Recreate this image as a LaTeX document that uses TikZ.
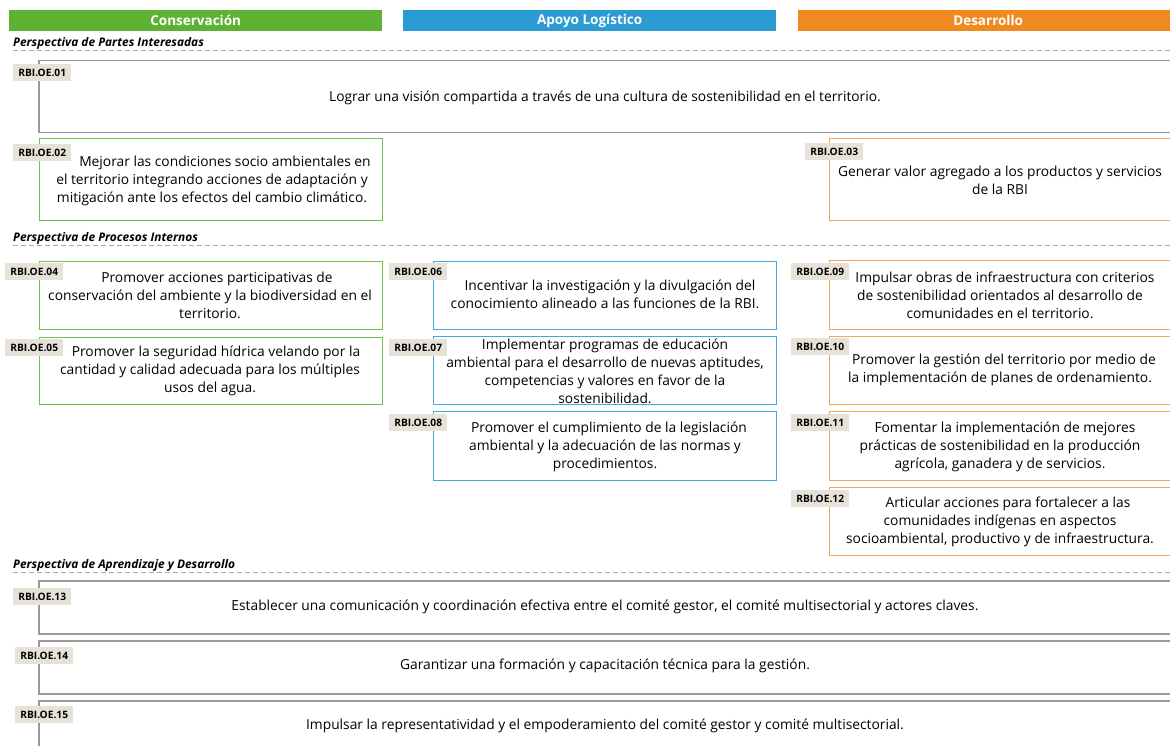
\documentclass[tikz,border=0pt]{standalone}
\usepackage{fontspec}
\setmainfont{Open Sans}
\definecolor{cgreen}{HTML}{5DB233}
\definecolor{cblue}{HTML}{2A9BD3}
\definecolor{corange}{HTML}{F0891F}
\definecolor{lgreen}{HTML}{72C04E}
\definecolor{lblue}{HTML}{45A8DC}
\definecolor{lorange}{HTML}{F5A55A}
\definecolor{tagbg}{HTML}{E7E2D8}
\definecolor{boxgray}{HTML}{9A9A9A}
\definecolor{dashgray}{HTML}{A8A8A8}
\tikzset{
  header/.style={fill=#1, text=white, font=\bfseries\fontsize{13.5}{16}\selectfont, inner sep=0, anchor=north west, minimum height=21pt},
  obox/.style={draw=#1, line width=1.2pt, fill=white, inner sep=0, anchor=north west},
  gbox/.style={draw=boxgray, line width=1.5pt, fill=white, inner sep=0, anchor=north west, minimum width=1140pt},
  tagnode/.style={fill=tagbg, font=\bfseries\fontsize{10.2}{12}\selectfont, anchor=north west, inner sep=0, minimum height=17pt, minimum width=58pt},
  otext/.style={align=center, font=\fontsize{13.8}{18}\selectfont, inner sep=0},
  persp/.style={font=\bfseries\itshape\fontsize{11.9}{13}\selectfont, anchor=base west, inner sep=0},
  dashline/.style={draw=dashgray, line width=1pt, dash pattern=on 5pt off 3pt}
}
\begin{document}
\begin{tikzpicture}[x=1pt,y=-1pt]
\useasboundingbox (0,0) rectangle (1170,746);
\clip (0,0) rectangle (1170,746);
% headers
\node[header=cgreen, minimum width=373pt] (h1) at (9,10) {Conservación};
\node[header=cblue, minimum width=373pt] (h2) at (403,10) {Apoyo Logístico};
\node[header=corange, minimum width=380pt] (h3) at (798,10) {Desarrollo};
% perspectives
\node[persp] (p1) at (13,47) {Perspectiva de Partes Interesadas};
\coordinate (d1a) at (13,51); \coordinate (d1b) at (1170,51);
\draw[dashline] (d1a) -- (d1b);
\node[persp] (p2) at (13,242) {Perspectiva de Procesos Internos};
\coordinate (d2a) at (13,246); \coordinate (d2b) at (1170,246);
\draw[dashline] (d2a) -- (d2b);
\node[persp] (p3) at (13,568) {Perspectiva de Aprendizaje y Desarrollo};
\coordinate (d3a) at (13,572); \coordinate (d3b) at (1170,572);
\draw[dashline] (d3a) -- (d3b);
% OE.01
\node[gbox, minimum height=72pt] (b01) at (38,60) {};
\node[otext] (t01) at (605,98) {Lograr una visión compartida a través de una cultura de sostenibilidad en el territorio.};
\node[tagnode] (g01) at (13,64) {RBI.OE.01};
% OE.02
\node[obox=lgreen, minimum width=343pt, minimum height=82pt] (b02) at (39,138) {};
\node[otext] (t02) at (212,181) {\hspace*{26pt}Mejorar las condiciones socio ambientales en\\el territorio integrando acciones de adaptación y\\mitigación ante los efectos del cambio climático.};
\node[tagnode] (g02) at (13,144) {RBI.OE.02};
% OE.03
\node[obox=lorange, minimum width=350pt, minimum height=82pt] (b03) at (829,138) {};
\node[otext] (t03) at (1000,180) {Generar valor agregado a los productos y servicios\\de la RBI};
\node[tagnode] (g03) at (805,143) {RBI.OE.03};
% OE.04
\node[obox=lgreen, minimum width=343pt, minimum height=68pt] (b04) at (39,261) {};
\node[otext] (t04) at (210,295) {\hspace*{14pt}Promover acciones participativas de\\conservación del ambiente y la biodiversidad en el\\territorio.};
\node[tagnode] (g04) at (5,263) {RBI.OE.04};
% OE.05
\node[obox=lgreen, minimum width=343pt, minimum height=67pt] (b05) at (39,337) {};
\node[otext] (t05) at (210,371) {\hspace*{12pt}Promover la seguridad hídrica velando por la\\cantidad y calidad adecuada para los múltiples\\usos del agua.};
\node[tagnode] (g05) at (5,339) {RBI.OE.05};
% OE.06
\node[obox=lblue, minimum width=343pt, minimum height=68pt] (b06) at (433,261) {};
\node[otext] (t06) at (605,294) {\hspace*{10pt}Incentivar la investigación y la divulgación del\\conocimiento alineado a las funciones de la RBI.};
\node[tagnode] (g06) at (389,263) {RBI.OE.06};
% OE.07
\node[obox=lblue, minimum width=343pt, minimum height=68pt] (b07) at (433,336) {};
\node[otext] (t07) at (605,371) {Implementar programas de educación\\ambiental para el desarrollo de nuevas aptitudes,\\competencias y valores en favor de la\\sostenibilidad.};
\node[tagnode] (g07) at (389,339) {RBI.OE.07};
% OE.08
\node[obox=lblue, minimum width=343pt, minimum height=69pt] (b08) at (433,411) {};
\node[otext] (t08) at (605,447) {\hspace*{8pt}Promover el cumplimiento de la legislación\\ambiental y la adecuación de las normas y\\procedimientos.};
\node[tagnode] (g08) at (389,414) {RBI.OE.08};
% OE.09
\node[obox=lorange, minimum width=350pt, minimum height=69pt] (b09) at (829,260) {};
\node[otext] (t09) at (1000,295) {\hspace*{10pt}Impulsar obras de infraestructura con criterios\\de sostenibilidad orientados al desarrollo de\\comunidades en el territorio.};
\node[tagnode] (g09) at (791,263) {RBI.OE.09};
% OE.10
\node[obox=lorange, minimum width=350pt, minimum height=68pt] (b10) at (829,336) {};
\node[otext] (t10) at (1000,370) {\hspace*{8pt}Promover la gestión del territorio por medio de\\la implementación de planes de ordenamiento.};
\node[tagnode] (g10) at (791,338) {RBI.OE.10};
% OE.11
\node[obox=lorange, minimum width=350pt, minimum height=69pt] (b11) at (829,411) {};
\node[otext] (t11) at (1000,447) {\hspace*{10pt}Fomentar la implementación de mejores\\prácticas de sostenibilidad en la producción\\agrícola, ganadera y de servicios.};
\node[tagnode] (g11) at (791,414) {RBI.OE.11};
% OE.12
\node[obox=lorange, minimum width=350pt, minimum height=68pt] (b12) at (829,487) {};
\node[otext] (t12) at (1000,522) {\hspace*{16pt}Articular acciones para fortalecer a las\\comunidades indígenas en aspectos\\socioambiental, productivo y de infraestructura.};
\node[tagnode] (g12) at (791,490) {RBI.OE.12};
% OE.13
\node[gbox, minimum height=53pt] (b13) at (38,580) {};
\node[otext] (t13) at (605,607) {Establecer una comunicación y coordinación efectiva entre el comité gestor, el comité multisectorial y actores claves.};
\node[tagnode] (g13) at (13,588) {RBI.OE.13};
% OE.14
\node[gbox, minimum height=53pt] (b14) at (38,640) {};
\node[otext] (t14) at (605,666) {Garantizar una formación y capacitación técnica para la gestión.};
\node[tagnode] (g14) at (15,647) {RBI.OE.14};
% OE.15
\node[gbox, minimum height=70pt] (b15) at (38,700) {};
\node[otext] (t15) at (605,726) {Impulsar la representatividad y el empoderamiento del comité gestor y comité multisectorial.};
\node[tagnode] (g15) at (15,706) {RBI.OE.15};
\end{tikzpicture}
\end{document}
